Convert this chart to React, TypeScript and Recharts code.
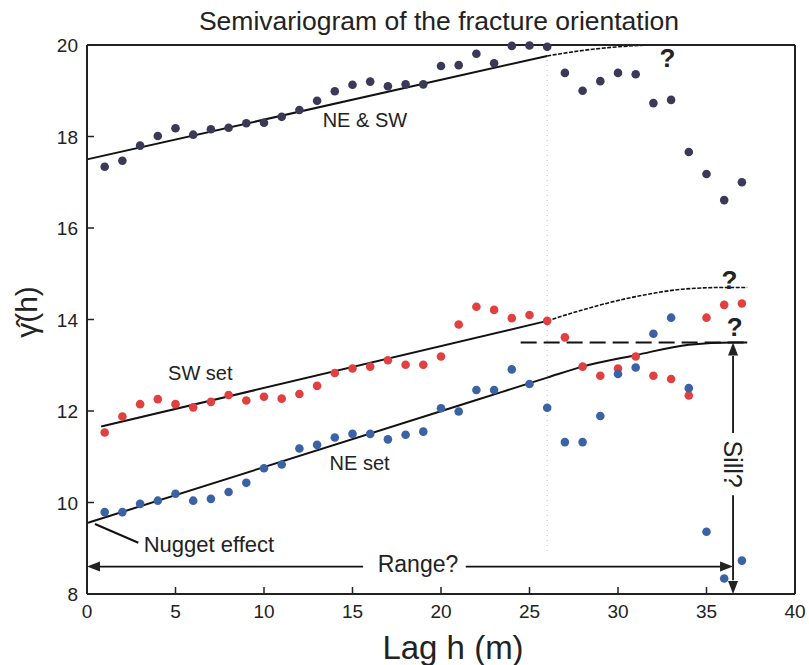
import { ComposedChart, Scatter, Line, XAxis, YAxis, ReferenceLine, ReferenceDot } from "recharts";

const FONT = "'Liberation Sans', Arial, sans-serif";

// lag distances (m)
const lags = [1, 2, 3, 4, 5, 6, 7, 8, 9, 10, 11, 12, 13, 14, 15, 16, 17, 18, 19, 20, 21, 22, 23, 24, 25, 26, 27, 28, 29, 30, 31, 32, 33, 34, 35, 36, 37];

// experimental semivariogram values
const neSwGamma = [17.34, 17.47, 17.8, 18.01, 18.18, 18.04, 18.16, 18.19, 18.29, 18.3, 18.43, 18.58, 18.78, 18.99, 19.13, 19.2, 19.1, 19.14, 19.14, 19.54, 19.56, 19.81, 19.6, 19.98, 19.99, 19.96, 19.39, 19.0, 19.21, 19.39, 19.36, 18.73, 18.8, 17.66, 17.18, 16.61, 17.0];
const swGamma = [11.53, 11.88, 12.15, 12.26, 12.15, 12.08, 12.2, 12.35, 12.23, 12.31, 12.27, 12.37, 12.55, 12.83, 12.93, 12.97, 13.11, 13.01, 13.01, 13.19, 13.89, 14.28, 14.21, 14.03, 14.1, 13.97, 13.61, 12.97, 12.77, 12.93, 13.19, 12.77, 12.7, 12.34, 14.04, 14.32, 14.35];
const neGamma = [9.79, 9.79, 9.97, 10.04, 10.19, 10.04, 10.08, 10.23, 10.43, 10.75, 10.83, 11.18, 11.26, 11.42, 11.5, 11.5, 11.38, 11.48, 11.55, 12.06, 11.99, 12.46, 12.46, 12.91, 12.59, 12.07, 11.32, 11.32, 11.89, 12.81, 12.95, 13.69, 14.04, 12.5, 9.36, 8.34, 8.73];

// fitted models
const neSwFitLags = [0, 26];
const neSwFit = [17.5, 19.76];
const neSwTailLags = [26, 28, 30, 32, 35];
const neSwTail = [19.76, 19.88, 19.96, 20.0, 20.0];

const swFitLags = [0.8, 26];
const swFit = [11.66, 13.97];
const swTailLags = [26, 28, 31, 33.6, 35.9, 37.3];
const swTail = [13.97, 14.21, 14.5, 14.66, 14.7, 14.7];

const neFitLags = [0, 22, 26, 28, 31, 34, 36.5, 37.3];
const neFit = [9.55, 12.24, 12.73, 12.97, 13.22, 13.45, 13.5, 13.5];

// annotations
const sillLag = 36.5;
const sillLevel = 13.5;
const rangeLevel = 8.6;
const dashedSillLags = [24.5, 37.3];
const nuggetLags = [0.45, 2.9];
const nuggetVals = [9.53, 9.12];

const xTicks = [0, 5, 10, 15, 20, 25, 30, 35, 40];
const yTicks = [8, 10, 12, 14, 16, 18, 20];

const pts = (xs: number[], ys: number[]) => xs.map((x, i) => ({ x, y: ys[i] }));

const dot = (color: string) => (p: any) => <circle cx={p.cx} cy={p.cy} r={4.3} fill={color} />;

const BottomTick = (p: any) => (
  <g>
    <line x1={p.x} x2={p.x} y1={p.y - 10} y2={p.y - 17} stroke="#222" strokeWidth={1.5} />
    <text x={p.x} y={p.y + 14} textAnchor="middle" fontSize={19} fill="#222" fontFamily={FONT}>{p.payload.value}</text>
  </g>
);
const LeftTick = (p: any) => (
  <g>
    <line x1={p.x + 9} x2={p.x + 16} y1={p.y} y2={p.y} stroke="#222" strokeWidth={1.5} />
    <text x={p.x} y={p.y + 7} textAnchor="end" fontSize={19} fill="#222" fontFamily={FONT}>{p.payload.value}</text>
  </g>
);
const TopTick = (p: any) => (
  <line x1={p.x} x2={p.x} y1={p.y} y2={p.y + 7} stroke="#222" strokeWidth={1.5} />
);
const RightTick = (p: any) => (
  <line x1={p.x} x2={p.x - 7} y1={p.y} y2={p.y} stroke="#222" strokeWidth={1.5} />
);

const txt = (value: string, size: number, anchor = "middle", bold = false) => (p: any) => (
  <text x={p.cx} y={p.cy} textAnchor={anchor} dominantBaseline="central" fontSize={size} fontWeight={bold ? "bold" : "normal"} fill="#222" fontFamily={FONT}>{value}</text>
);
const tri = (dir: "left" | "right" | "up" | "down") => (p: any) => {
  const { cx, cy } = p;
  const d =
    dir === "left" ? `M${cx},${cy} L${cx + 13},${cy - 5} L${cx + 13},${cy + 5} Z` :
    dir === "right" ? `M${cx},${cy} L${cx - 13},${cy - 5} L${cx - 13},${cy + 5} Z` :
    dir === "up" ? `M${cx},${cy} L${cx - 5},${cy + 13} L${cx + 5},${cy + 13} Z` :
    `M${cx},${cy} L${cx - 5},${cy - 13} L${cx + 5},${cy - 13} Z`;
  return <path d={d} fill="#222" />;
};

export default function App() {
  return (
    <div style={{ position: "absolute", left: 0, top: 0, width: 809, height: 665, background: "#fff", fontFamily: FONT }}>
      <ComposedChart width={809} height={665} margin={{ top: 44, right: 13, bottom: 41, left: 37 }}>
        <XAxis xAxisId="b" type="number" dataKey="x" domain={[0, 40]} ticks={xTicks} height={30}
          tickSize={0} tickMargin={10} tick={BottomTick} axisLine={{ stroke: "#222", strokeWidth: 2 }} />
        <XAxis xAxisId="t" orientation="top" type="number" dataKey="x" domain={[0, 40]} ticks={xTicks} height={1}
          tickSize={0} tickMargin={0} tick={TopTick} axisLine={{ stroke: "#222", strokeWidth: 2 }} />
        <YAxis yAxisId="l" type="number" dataKey="y" domain={[8, 20]} ticks={yTicks} width={50}
          tickSize={0} tickMargin={9} tick={LeftTick} axisLine={{ stroke: "#222", strokeWidth: 2 }} />
        <YAxis yAxisId="r" orientation="right" type="number" dataKey="y" domain={[8, 20]} ticks={yTicks} width={1}
          tickSize={0} tickMargin={0} tick={RightTick} axisLine={{ stroke: "#222", strokeWidth: 2 }} />

        <ReferenceLine xAxisId="b" yAxisId="l" segment={[{ x: 26, y: 20 }, { x: 26, y: 8.9 }]} stroke="#bbb" strokeDasharray="1 4" />

        <Line xAxisId="b" yAxisId="l" data={pts(neSwFitLags, neSwFit)} dataKey="y" type="linear" stroke="#111" strokeWidth={2} dot={false} isAnimationActive={false} />
        <Line xAxisId="b" yAxisId="l" data={pts(neSwTailLags, neSwTail)} dataKey="y" type="monotone" stroke="#111" strokeWidth={1.6} strokeDasharray="4 1.5" dot={false} isAnimationActive={false} />
        <Line xAxisId="b" yAxisId="l" data={pts(swFitLags, swFit)} dataKey="y" type="linear" stroke="#111" strokeWidth={2} dot={false} isAnimationActive={false} />
        <Line xAxisId="b" yAxisId="l" data={pts(swTailLags, swTail)} dataKey="y" type="monotone" stroke="#111" strokeWidth={1.6} strokeDasharray="4 1.5" dot={false} isAnimationActive={false} />
        <Line xAxisId="b" yAxisId="l" data={pts(neFitLags, neFit)} dataKey="y" type="monotone" stroke="#111" strokeWidth={2} dot={false} isAnimationActive={false} />
        <Line xAxisId="b" yAxisId="l" data={pts(dashedSillLags, [sillLevel, sillLevel])} dataKey="y" type="linear" stroke="#111" strokeWidth={2} strokeDasharray="16 7" dot={false} isAnimationActive={false} />
        <Line xAxisId="b" yAxisId="l" data={pts(nuggetLags, nuggetVals)} dataKey="y" type="linear" stroke="#111" strokeWidth={2} dot={false} isAnimationActive={false} />

        {/* range arrow */}
        <Line xAxisId="b" yAxisId="l" data={pts([0.5, 15.6], [rangeLevel, rangeLevel])} dataKey="y" type="linear" stroke="#111" strokeWidth={1.8} dot={false} isAnimationActive={false} />
        <Line xAxisId="b" yAxisId="l" data={pts([21.4, 36], [rangeLevel, rangeLevel])} dataKey="y" type="linear" stroke="#111" strokeWidth={1.8} dot={false} isAnimationActive={false} />
        {/* sill arrow */}
        <Line xAxisId="b" yAxisId="l" data={pts([sillLag, sillLag], [13.2, 11.52])} dataKey="y" type="linear" stroke="#111" strokeWidth={1.8} dot={false} isAnimationActive={false} />
        <Line xAxisId="b" yAxisId="l" data={pts([sillLag, sillLag], [10.16, 8.3])} dataKey="y" type="linear" stroke="#111" strokeWidth={1.8} dot={false} isAnimationActive={false} />

        <Scatter xAxisId="b" yAxisId="l" data={pts(lags, neSwGamma)} shape={dot("#3a3958")} isAnimationActive={false} />
        <Scatter xAxisId="b" yAxisId="l" data={pts(lags, swGamma)} shape={dot("#e0403f")} isAnimationActive={false} />
        <Scatter xAxisId="b" yAxisId="l" data={pts(lags, neGamma)} shape={dot("#3c62a6")} isAnimationActive={false} />

        <ReferenceDot xAxisId="b" yAxisId="l" x={0} y={rangeLevel} shape={tri("left")} />
        <ReferenceDot xAxisId="b" yAxisId="l" x={sillLag} y={rangeLevel} shape={tri("right")} />
        <ReferenceDot xAxisId="b" yAxisId="l" x={sillLag} y={sillLevel} shape={tri("up")} />
        <ReferenceDot xAxisId="b" yAxisId="l" x={sillLag} y={8} shape={tri("down")} />

        <ReferenceDot xAxisId="b" yAxisId="l" x={15.7} y={18.36} shape={txt("NE & SW", 20)} />
        <ReferenceDot xAxisId="b" yAxisId="l" x={6.4} y={12.83} shape={txt("SW set", 20)} />
        <ReferenceDot xAxisId="b" yAxisId="l" x={15.4} y={10.86} shape={txt("NE set", 20)} />
        <ReferenceDot xAxisId="b" yAxisId="l" x={3.2} y={9.09} shape={txt("Nugget effect", 22, "start")} />
        <ReferenceDot xAxisId="b" yAxisId="l" x={18.7} y={rangeLevel + 0.05} shape={txt("Range?", 23)} />
        <ReferenceDot xAxisId="b" yAxisId="l" x={32.8} y={19.72} shape={txt("?", 26, "middle", true)} />
        <ReferenceDot xAxisId="b" yAxisId="l" x={36.3} y={14.86} shape={txt("?", 26, "middle", true)} />
        <ReferenceDot xAxisId="b" yAxisId="l" x={36.6} y={13.84} shape={txt("?", 26, "middle", true)} />
        <ReferenceDot xAxisId="b" yAxisId="l" x={sillLag} y={10.84}
          shape={(p: any) => (
            <text x={p.cx} y={p.cy} transform={`rotate(90 ${p.cx} ${p.cy})`} textAnchor="middle" dominantBaseline="central" fontSize={25} fill="#222" fontFamily={FONT}>Sill?</text>
          )} />
      </ComposedChart>

      <div style={{ position: "absolute", left: 439, top: 21, transform: "translate(-50%,-50%)", fontSize: 26.5, color: "#222", whiteSpace: "nowrap" }}>
        Semivariogram of the fracture orientation
      </div>
      <div style={{ position: "absolute", left: 453, top: 648, transform: "translate(-50%,-50%)", fontSize: 33, color: "#222", whiteSpace: "nowrap" }}>
        Lag h (m)
      </div>
      <div style={{ position: "absolute", left: 27, top: 312, transform: "translate(-50%,-50%) rotate(-90deg)", fontSize: 30, color: "#222", whiteSpace: "nowrap" }}>
        γ̂(h)
      </div>
    </div>
  );
}
